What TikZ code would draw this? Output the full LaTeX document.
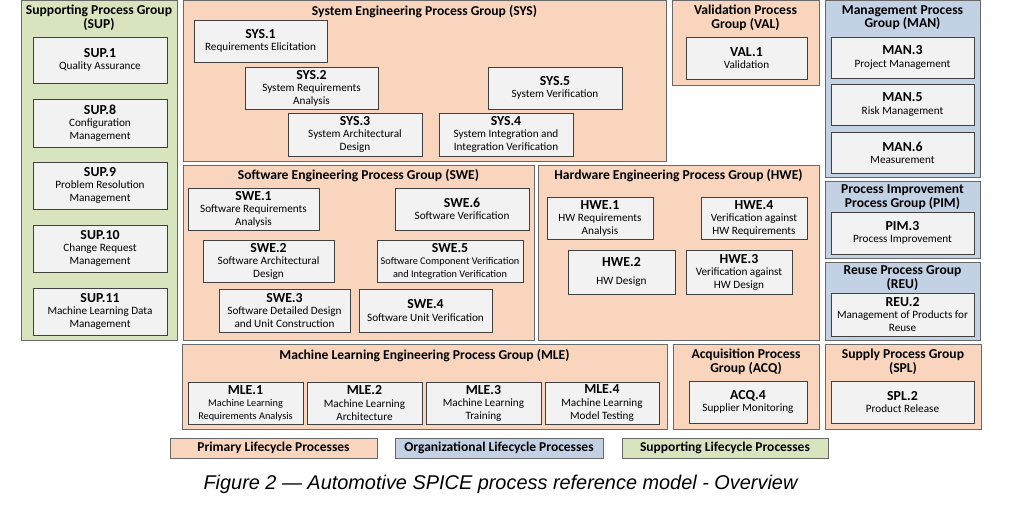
\documentclass[tikz,border=0pt]{standalone}
\usepackage{fontspec}
\setmainfont{Carlito}
\newfontfamily\capfont{Liberation Sans}
\usetikzlibrary{calc}
\definecolor{peach}{RGB}{248,213,188}
\definecolor{sgreen}{RGB}{216,228,190}
\definecolor{oblue}{RGB}{194,209,228}
\definecolor{boxfill}{RGB}{242,242,242}
\definecolor{boxline}{RGB}{64,64,64}
\definecolor{grpline}{RGB}{105,105,105}
\newcommand\codefont{\fontsize{13.8}{14}\selectfont\bfseries}
\newcommand\descfont{\fontsize{11.2}{12.8}\selectfont}
\newcommand\smalldesc{\fontsize{10.3}{11}\selectfont}
\newcommand\pc[2]{{\codefont #1}\\[-0.5pt]#2}
\newcommand\procbox[7][]{\node[#1, minimum width={#5pt-#3pt}, minimum height={#6pt-#4pt}] (#2) at ({(#3+#5)/2},{(#4+#6)/2}) {#7};}
\begin{document}
\begin{tikzpicture}[x=1pt,y=-1pt,
  grp/.style={draw=grpline, line width=0.9pt, inner sep=0pt, outer sep=0pt},
  proc/.style={draw=boxline, fill=boxfill, line width=1pt, inner sep=0pt, outer sep=0pt, align=center, font=\descfont},
  gtitle/.style={font=\fontsize{13.6}{13.8}\selectfont\bfseries, align=center, inner sep=0pt, anchor=north},
  legend/.style={draw=grpline, line width=0.9pt, inner sep=0pt, font=\fontsize{13.5}{14}\selectfont\bfseries}]
\useasboundingbox[fill=white] (0,0) rectangle (1010,520);

% groups
\procbox[grp, fill=sgreen]{gsup}{21}{0.5}{177}{340}{}
\procbox[grp, fill=peach]{gsys}{183}{0.5}{666}{161}{}
\procbox[grp, fill=peach]{gval}{672}{0.5}{819}{85}{}
\procbox[grp, fill=oblue]{gman}{825}{0.5}{980}{177}{}
\procbox[grp, fill=oblue]{gpim}{825}{181}{980}{258}{}
\procbox[grp, fill=oblue]{greu}{825}{262}{980}{340}{}
\procbox[grp, fill=peach]{gswe}{183}{165}{534}{340}{}
\procbox[grp, fill=peach]{ghwe}{538}{165}{819}{340}{}
\procbox[grp, fill=peach]{gmle}{182}{344}{667}{429}{}
\procbox[grp, fill=peach]{gacq}{673}{344}{819}{429}{}
\procbox[grp, fill=peach]{gspl}{825}{344}{981}{429}{}

% titles
\node[gtitle] (tsup) at ($(gsup.north)+(0,4.5)$) {Supporting Process Group\\(SUP)};
\node[gtitle] (tsys) at ($(gsys.north)+(0,4.5)$) {System Engineering Process Group (SYS)};
\node[gtitle] (tval) at ($(gval.north)+(0,4.5)$) {Validation Process\\Group (VAL)};
\node[gtitle] (tman) at ($(gman.north)+(0,4.5)$) {Management Process\\Group (MAN)};
\node[gtitle] (tpim) at ($(gpim.north)+(0,3.5)$) {Process Improvement\\Process Group (PIM)};
\node[gtitle] (treu) at ($(greu.north)+(0,3.5)$) {Reuse Process Group\\(REU)};
\node[gtitle] (tswe) at ($(gswe.north)+(0,4.5)$) {Software Engineering Process Group (SWE)};
\node[gtitle] (thwe) at ($(ghwe.north)+(0,4.5)$) {Hardware Engineering Process Group (HWE)};
\node[gtitle] (tmle) at ($(gmle.north)+(0,5)$) {Machine Learning Engineering Process Group (MLE)};
\node[gtitle] (tacq) at ($(gacq.north)+(0,4.5)$) {Acquisition Process\\Group (ACQ)};
\node[gtitle] (tspl) at ($(gspl.north)+(0,4.5)$) {Supply Process Group\\(SPL)};

% SUP
\procbox[proc]{sup1}{33}{37}{167}{83}{\pc{SUP.1}{Quality Assurance}}
\procbox[proc]{sup8}{33}{99}{167}{147}{\pc{SUP.8}{Configuration\\Management}}
\procbox[proc]{sup9}{33}{162}{167}{209}{\pc{SUP.9}{Problem Resolution\\Management}}
\procbox[proc]{sup10}{33}{225}{167}{272}{\pc{SUP.10}{Change Request\\Management}}
\procbox[proc]{sup11}{33}{288}{167}{335}{\pc{SUP.11}{Machine Learning Data\\Management}}
% SYS
\procbox[proc]{sys1}{194}{20}{327}{62}{\pc{SYS.1}{Requirements Elicitation}}
\procbox[proc]{sys2}{245}{67}{378}{109}{\pc{SYS.2}{System Requirements\\Analysis}}
\procbox[proc]{sys3}{288}{113}{422}{156}{\pc{SYS.3}{System Architectural\\Design}}
\procbox[proc]{sys4}{439}{113}{573}{156}{\pc{SYS.4}{System Integration and\\Integration Verification}}
\procbox[proc]{sys5}{488}{67}{622}{109}{\pc{SYS.5}{System Verification}}
% VAL, MAN, PIM, REU
\procbox[proc]{val1}{686}{37}{807}{79}{\pc{VAL.1}{Validation}}
\procbox[proc]{man3}{831}{37}{974}{78}{\pc{MAN.3}{Project Management}}
\procbox[proc]{man5}{831}{84}{974}{125}{\pc{MAN.5}{Risk Management}}
\procbox[proc]{man6}{831}{132}{974}{173}{\pc{MAN.6}{Measurement}}
\procbox[proc]{pim3}{831}{212}{974}{254}{\pc{PIM.3}{Process Improvement}}
\procbox[proc]{reu2}{831}{293}{974}{336}{\pc{REU.2}{Management of Products for\\Reuse}}
% SWE
\procbox[proc]{swe1}{188}{188}{319}{230}{\pc{SWE.1}{Software Requirements\\Analysis}}
\procbox[proc]{swe2}{203}{240}{334}{282}{\pc{SWE.2}{Software Architectural\\Design}}
\procbox[proc]{swe3}{219}{289}{350}{332}{\pc{SWE.3}{Software Detailed Design\\and Unit Construction}}
\procbox[proc]{swe4}{359}{289}{492}{332}{\pc{SWE.4}{Software Unit Verification}}
\procbox[proc]{swe5}{377}{240}{523}{282}{\pc{SWE.5}{\smalldesc Software Component Verification\\\smalldesc and Integration Verification}}
\procbox[proc]{swe6}{395}{188}{529}{230}{\pc{SWE.6}{Software Verification}}
% HWE
\procbox[proc]{hwe1}{547}{197}{653}{239}{\pc{HWE.1}{HW Requirements\\Analysis}}
\procbox[proc]{hwe2}{568}{250}{675}{294}{{\codefont HWE.2}\\[5pt]HW Design}
\procbox[proc]{hwe3}{686}{250}{792}{294}{\pc{HWE.3}{Verification against\\HW Design}}
\procbox[proc]{hwe4}{701}{197}{807}{239}{\pc{HWE.4}{Verification against\\HW Requirements}}
% MLE
\procbox[proc]{mle1}{188}{382}{303}{424}{\pc{MLE.1}{\smalldesc Machine Learning\\\smalldesc Requirements Analysis}}
\procbox[proc]{mle2}{307}{382}{422}{424}{\pc{MLE.2}{Machine Learning\\Architecture}}
\procbox[proc]{mle3}{426}{382}{541}{424}{\pc{MLE.3}{Machine Learning\\Training}}
\procbox[proc]{mle4}{545}{382}{659}{424}{\pc{MLE.4}{Machine Learning\\Model Testing}}
% ACQ, SPL
\procbox[proc]{acq4}{689}{381}{807}{423}{\pc{ACQ.4}{Supplier Monitoring}}
\procbox[proc]{spl2}{831}{381}{974}{423}{\pc{SPL.2}{Product Release}}

% legend
\procbox[legend, fill=peach]{lprim}{170}{438}{377}{458}{Primary Lifecycle Processes}
\procbox[legend, fill=oblue]{lorg}{395}{438}{603}{458}{Organizational Lifecycle Processes}
\procbox[legend, fill=sgreen]{lsup}{622}{438}{828}{458}{Supporting Lifecycle Processes}

% caption
\node[font=\capfont\itshape\fontsize{19.9}{22}\selectfont, inner sep=0pt] (cap) at (500.5,484.5) {Figure 2 — Automotive SPICE process reference model - Overview};
\end{tikzpicture}
\end{document}
